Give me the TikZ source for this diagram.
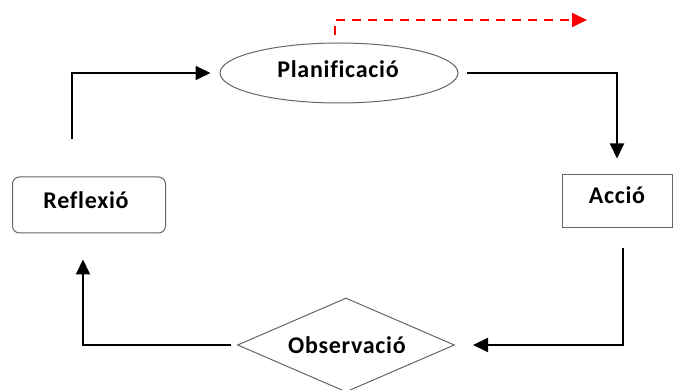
\documentclass[tikz,border=0pt]{standalone}
\usepackage{fontspec}
\setmainfont[Ligatures=NoCommon,LetterSpace=3]{Carlito}
\usetikzlibrary{shapes.geometric,arrows.meta,calc}
\begin{document}
\begin{tikzpicture}[x=1pt,y=-1pt,
  lbl/.style={font=\bfseries\fontsize{24}{28}\selectfont, text=black, inner sep=0pt, anchor=base},
  shapeline/.style={draw=black!60, line width=1pt},
  conn/.style={draw=black, line width=2pt, -{Triangle[length=15pt,width=14pt]}},
  redconn/.style={draw=red, line width=2pt, dash pattern=on 9pt off 7pt, -{Triangle[length=15pt,width=14pt]}}]
\useasboundingbox (0,0) rectangle (673,390);
\clip (0,0) rectangle (673,390);
% shapes
\node[ellipse, shapeline, minimum width=238pt, minimum height=60pt, inner sep=0pt] (plan) at (339,73) {};
\node[rectangle, shapeline, minimum width=110pt, minimum height=53pt, inner sep=0pt] (acc) at (617,201.5) {};
\node[rectangle, rounded corners=7pt, shapeline, minimum width=153pt, minimum height=56pt, inner sep=0pt] (refl) at (89,205) {};
\node[diamond, shapeline, minimum width=217pt, minimum height=94pt, inner sep=0pt] (obs) at (346,345) {};
% labels
\node[lbl] (planlbl) at (338,78) {Planificació};
\node[lbl] (acclbl) at (617,204) {Acció};
\node[lbl] (refllbl) at (86,209) {Reflexió};
\node[lbl] (obslbl) at (347,354) {Observació};
% connectors
\coordinate (redend) at (587,20);
\draw[redconn] ($(plan.north)+(-4,-7)$) |- (redend);
\draw[conn] ($(plan.east)+(8,0)$) -| ($(acc.north)+(0,-16)$);
\draw[conn] ($(acc.south)+(6,20)$) |- ($(obs.east)+(18,0)$);
\draw[conn] ($(obs.west)+(-6,0)$) -| ($(refl.south)+(-6,26)$);
\draw[conn] ($(refl.north)+(-17,-37)$) |- ($(plan.west)+(-9,0)$);
\end{tikzpicture}
\end{document}
